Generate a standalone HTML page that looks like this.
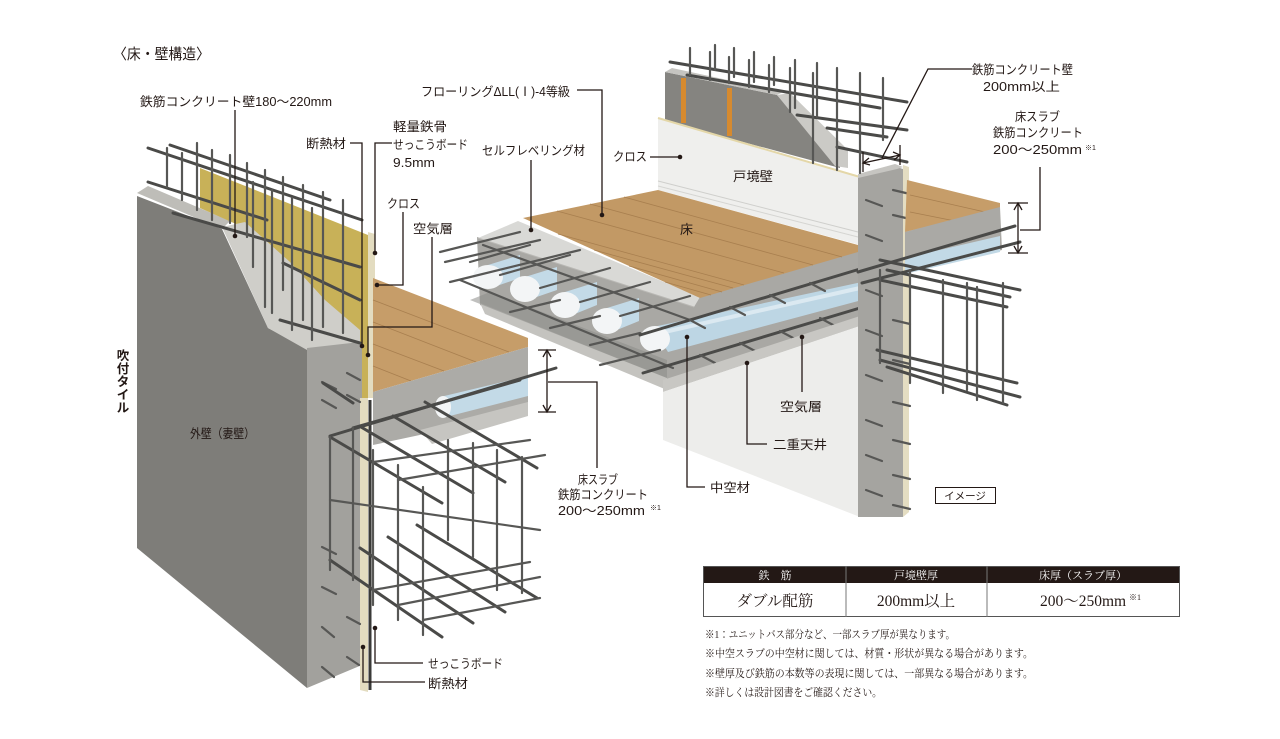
<!DOCTYPE html>
<html><head><meta charset="utf-8">
<style>
html,body{margin:0;padding:0;background:#fff;}
svg{display:block;}
.t{font-family:"Liberation Sans","Noto Sans CJK JP",sans-serif;font-size:12.5px;fill:#231815;}
.s{font-family:"Liberation Serif","Noto Serif CJK JP",serif;fill:#231815;}
.l{stroke:#231815;stroke-width:1.3;fill:none;}
.r{stroke:#4a4a48;stroke-width:3;stroke-linecap:round;fill:none;}
.r2{stroke:#575755;stroke-width:2.2;stroke-linecap:round;fill:none;}
.pl{stroke:#a87f4f;stroke-width:0.8;fill:none;}
</style></head><body>
<svg width="1280" height="739" viewBox="0 0 1280 739" xmlns="http://www.w3.org/2000/svg">
<rect width="1280" height="739" fill="#fff"/>

<!-- ================= LEFT WALL ================= -->
<polygon points="137,196 222,229 268,328 307,348 307,688 137,548" fill="#7e7d79"/>
<polygon points="137,193 148,186 230,221 222,229" fill="#bebdb8"/>
<polygon points="200,168 373,237 373,398 360,398 360,335 300,290 245,228 200,208" fill="#c8b158"/>
<polygon points="222,227 245,222 290,262 325,300 360,330 360,342 307,350 268,328" fill="#cfcec9"/>
<polygon points="307,348 360,342 362,345 362,665 307,688" fill="#a2a19d"/>
<polygon points="360,398 368,398 368,692 360,690" fill="#e3dcc0"/>
<polygon points="368,232 375,234 375,398 368,398" fill="#e3dcc0"/>
<line x1="370" y1="400" x2="370" y2="690" stroke="#3a3a38" stroke-width="3"/>

<!-- left floor -->
<polygon points="373,278 528,338 528,347 373,392" fill="#c69d69"/>
<line class="pl" x1="373" y1="300" x2="509" y2="352"/>
<line class="pl" x1="373" y1="322" x2="476" y2="362"/>
<line class="pl" x1="373" y1="344" x2="444" y2="371"/>
<line class="pl" x1="373" y1="366" x2="411" y2="381"/>
<polygon points="373,392 528,347 528,412 373,445" fill="#acaba7"/>
<polygon points="420,430 528,402 528,416 432,444" fill="#c6c5c1"/>
<polygon points="440,397 528,376 528,396 442,418" fill="#c3dae7"/>
<ellipse cx="443" cy="407" rx="8" ry="11" fill="#f3f5f6"/>

<!-- left stubs on concrete -->
<g class="r2">
<line x1="322" y1="382" x2="336" y2="389"/><line x1="347" y1="373" x2="360" y2="380"/>
<line x1="322" y1="400" x2="336" y2="408"/><line x1="347" y1="395" x2="360" y2="402"/>
<line x1="322" y1="587" x2="336" y2="594"/><line x1="347" y1="617" x2="360" y2="624"/>
<line x1="322" y1="627" x2="334" y2="637"/><line x1="322" y1="667" x2="334" y2="677"/>
<line x1="347" y1="657" x2="359" y2="665"/><line x1="322" y1="547" x2="336" y2="554"/>
</g>

<!-- left top rebars -->
<g class="r">
<line x1="148" y1="148" x2="362" y2="220"/>
<line x1="170" y1="145" x2="330" y2="200"/>
<line x1="148" y1="182" x2="267" y2="220"/>
<line x1="173" y1="213" x2="360" y2="267"/>
<line x1="283" y1="263" x2="360" y2="300"/>
<line x1="280" y1="320" x2="360" y2="343"/>
<line x1="323" y1="383" x2="353" y2="403"/>
</g>
<g class="r2">
<line x1="167" y1="148" x2="167" y2="187"/><line x1="182" y1="153" x2="182" y2="200"/>
<line x1="197" y1="143" x2="197" y2="210"/><line x1="212" y1="150" x2="212" y2="220"/>
<line x1="230" y1="155" x2="230" y2="223"/><line x1="247" y1="163" x2="247" y2="237"/>
<line x1="253" y1="182" x2="253" y2="267"/><line x1="265" y1="170" x2="265" y2="307"/>
<line x1="272" y1="190" x2="272" y2="313"/><line x1="283" y1="177" x2="283" y2="290"/>
<line x1="292" y1="198" x2="292" y2="330"/><line x1="303" y1="185" x2="303" y2="320"/>
<line x1="312" y1="208" x2="312" y2="340"/><line x1="323" y1="192" x2="323" y2="327"/>
<line x1="343" y1="200" x2="343" y2="333"/>
</g>

<!-- left cage -->
<g class="r">
<line x1="330" y1="436" x2="556" y2="368"/>
<line x1="353" y1="428" x2="520" y2="380"/>
<line x1="330" y1="437" x2="442" y2="503"/>
<line x1="361" y1="427" x2="473" y2="493"/>
<line x1="393" y1="416" x2="505" y2="482"/>
<line x1="425" y1="402" x2="537" y2="468"/>
<line x1="330" y1="560" x2="442" y2="637"/>
<line x1="360" y1="548" x2="473" y2="623"/>
<line x1="388" y1="537" x2="505" y2="612"/>
<line x1="417" y1="525" x2="537" y2="598"/>
</g>
<g class="r2">
<line x1="330" y1="437" x2="330" y2="570"/><line x1="353" y1="428" x2="353" y2="580"/>
<line x1="373" y1="450" x2="373" y2="605"/><line x1="398" y1="465" x2="398" y2="620"/>
<line x1="423" y1="487" x2="423" y2="635"/><line x1="448" y1="440" x2="448" y2="540"/>
<line x1="473" y1="443" x2="473" y2="557"/><line x1="497" y1="450" x2="497" y2="590"/>
<line x1="522" y1="457" x2="522" y2="593"/>
<line x1="373" y1="462" x2="530" y2="440"/><line x1="398" y1="480" x2="545" y2="455"/>
<line x1="330" y1="500" x2="540" y2="530"/>
<line x1="373" y1="590" x2="530" y2="562"/><line x1="398" y1="605" x2="540" y2="577"/>
<line x1="423" y1="620" x2="540" y2="598"/>
</g>

<!-- ================= RIGHT STRUCTURE ================= -->
<!-- dark wall -->
<polygon points="665,72 777,95 840,163 840,168 665,121" fill="#858480"/>
<polygon points="665,72 672,68 783,92 777,95" fill="#c5c4c0"/>
<polygon points="777,95 790,93 848,150 848,168 835,166" fill="#cbcac6"/>
<rect x="681" y="78" width="5" height="45" fill="#d68a2f"/>
<rect x="727" y="88" width="5" height="48" fill="#d68a2f"/>
<!-- white wall -->
<polygon points="658,118 860,177 860,245 658,190" fill="#efefed"/>
<line x1="658" y1="118" x2="860" y2="177" stroke="#e4d7a8" stroke-width="2"/>
<line x1="658" y1="181" x2="858" y2="232" stroke="#cfcfcc" stroke-width="1"/>
<line x1="658" y1="186" x2="858" y2="237" stroke="#d5d5d2" stroke-width="1"/>

<!-- slab body -->
<polygon points="477,237 700,296 858,250 860,255 860,320 667,384 480,305" fill="#a9a8a4"/>
<polygon points="480,303 667,378 667,390 485,314" fill="#c4c3bf"/>
<polygon points="470,300 490,292 667,360 667,378" fill="#8d8c88" opacity="0.55"/>
<!-- self leveling -->
<polygon points="478,238 518,221 700,297 694,307" fill="#d9d9d6"/>
<line x1="478" y1="238" x2="694" y2="307" stroke="#b9b8b4" stroke-width="1"/>
<!-- main wood -->
<polygon points="523,218 658,190 858,245 858,252 700,298" fill="#c29965"/>
<line class="pl" x1="558" y1="234" x2="744" y2="285"/>
<line class="pl" x1="594" y1="250" x2="733" y2="288"/>
<line class="pl" x1="629" y1="266" x2="722" y2="292"/>
<line class="pl" x1="665" y1="282" x2="711" y2="295"/>
<line class="pl" x1="557" y1="211" x2="784" y2="273"/>
<line class="pl" x1="590" y1="204" x2="813" y2="265"/>
<line class="pl" x1="624" y1="197" x2="842" y2="257"/>

<!-- tubes left face -->
<g>
<polygon points="488,265 520,255 520,278 488,289" fill="#c3dae7"/>
<ellipse cx="488" cy="277" rx="15" ry="12" fill="#f3f5f6"/>
<polygon points="525,277 557,267 557,290 525,301" fill="#c3dae7"/>
<ellipse cx="525" cy="289" rx="15" ry="13" fill="#f3f5f6"/>
<polygon points="565,292 597,282 597,305 565,318" fill="#c3dae7"/>
<ellipse cx="565" cy="305" rx="15" ry="13" fill="#f3f5f6"/>
<polygon points="607,308 639,298 639,321 607,334" fill="#c3dae7"/>
<ellipse cx="607" cy="321" rx="15" ry="13" fill="#f3f5f6"/>
</g>
<!-- long tube -->
<polygon points="653,327 862,282 862,300 668,352" fill="#bdd6e4"/>
<line x1="660" y1="333" x2="860" y2="288" stroke="#dbe9f1" stroke-width="4"/>
<ellipse cx="655" cy="339" rx="15" ry="13" fill="#f3f5f6"/>

<!-- slab rebars -->
<g class="r2">
<line x1="440" y1="252" x2="520" y2="232"/>
<line x1="445" y1="262" x2="540" y2="240"/>
<line x1="450" y1="282" x2="580" y2="250"/>
<line x1="460" y1="280" x2="673" y2="368"/>
<line x1="483" y1="245" x2="690" y2="320"/>
<line x1="470" y1="262" x2="530" y2="245"/>
<line x1="500" y1="275" x2="570" y2="255"/>
<line x1="540" y1="288" x2="610" y2="268"/>
<line x1="580" y1="302" x2="650" y2="282"/>
<line x1="620" y1="316" x2="690" y2="296"/>
<line x1="510" y1="312" x2="560" y2="300"/>
<line x1="550" y1="328" x2="600" y2="316"/>
<line x1="590" y1="345" x2="640" y2="333"/>
<line x1="600" y1="365" x2="660" y2="350"/>
</g>
<g class="r">
<line x1="640" y1="335" x2="880" y2="263"/>
<line x1="643" y1="373" x2="880" y2="302"/>
</g>
<g class="r2">
<line x1="690" y1="320" x2="705" y2="328"/><line x1="730" y1="307" x2="745" y2="315"/>
<line x1="770" y1="295" x2="785" y2="303"/><line x1="810" y1="283" x2="825" y2="291"/>
<line x1="700" y1="355" x2="715" y2="363"/><line x1="740" y1="343" x2="755" y2="351"/>
<line x1="780" y1="331" x2="795" y2="339"/><line x1="820" y1="318" x2="835" y2="326"/>
</g>

<!-- ceiling board & white ceiling wall -->
<polygon points="663,380 860,316 860,326 663,392" fill="#c8c7c3"/>
<polygon points="663,392 860,326 860,517 663,440" fill="#ededeb"/>

<!-- column -->
<polygon points="858,177 897,167 903,169 903,517 858,517" fill="#a5a4a0"/>
<polygon points="858,174 895,164 903,167 897,169 858,178" fill="#c6c5c1"/>
<polygon points="903,165 909,167 909,512 903,517" fill="#e4ddc2"/>
<g class="r2">
<line x1="866" y1="200" x2="882" y2="206"/><line x1="866" y1="235" x2="882" y2="241"/>
<line x1="866" y1="290" x2="882" y2="296"/><line x1="866" y1="330" x2="882" y2="336"/>
<line x1="866" y1="375" x2="882" y2="381"/><line x1="866" y1="420" x2="882" y2="426"/>
<line x1="866" y1="455" x2="882" y2="461"/><line x1="866" y1="490" x2="882" y2="496"/>
<line x1="893" y1="190" x2="910" y2="194"/><line x1="893" y1="215" x2="910" y2="219"/>
<line x1="893" y1="320" x2="910" y2="324"/><line x1="893" y1="360" x2="910" y2="364"/>
<line x1="893" y1="402" x2="910" y2="406"/><line x1="893" y1="440" x2="910" y2="444"/>
<line x1="893" y1="475" x2="910" y2="479"/><line x1="893" y1="505" x2="910" y2="509"/>
</g>

<!-- right floor -->
<polygon points="907,180 1000,203 1000,209 905,232" fill="#c69d69"/>
<line class="pl" x1="910" y1="195" x2="985" y2="212"/>
<line class="pl" x1="910" y1="212" x2="960" y2="222"/>
<polygon points="905,232 1000,207 1002,250 905,272" fill="#aaa9a5"/>
<polygon points="905,258 1000,236 1000,252 905,274" fill="#c2d9e6"/>
<g class="r">
<line x1="858" y1="272" x2="1015" y2="226"/>
<line x1="862" y1="283" x2="1020" y2="242"/>
</g>

<!-- right cage -->
<g class="r">
<line x1="880" y1="260" x2="1020" y2="290"/>
<line x1="887" y1="270" x2="1010" y2="297"/>
<line x1="880" y1="280" x2="1007" y2="307"/>
<line x1="877" y1="350" x2="1017" y2="383"/>
<line x1="880" y1="360" x2="1020" y2="397"/>
<line x1="887" y1="367" x2="1007" y2="405"/>
</g>
<g class="r2">
<line x1="880" y1="270" x2="880" y2="363"/><line x1="910" y1="270" x2="910" y2="383"/>
<line x1="943" y1="280" x2="943" y2="393"/><line x1="967" y1="283" x2="967" y2="390"/>
<line x1="977" y1="287" x2="977" y2="400"/><line x1="1003" y1="283" x2="1003" y2="403"/>
</g>

<!-- top rebars right -->
<g class="r">
<line x1="670" y1="62" x2="907" y2="102"/>
<line x1="687" y1="75" x2="880" y2="108"/>
<line x1="797" y1="115" x2="907" y2="130"/>
<line x1="827" y1="128" x2="887" y2="137"/>
<line x1="837" y1="147" x2="907" y2="162"/>
</g>
<g class="r2">
<line x1="690" y1="48" x2="690" y2="75"/><line x1="710" y1="52" x2="710" y2="80"/>
<line x1="715" y1="45" x2="715" y2="70"/><line x1="729" y1="57" x2="729" y2="83"/>
<line x1="734" y1="48" x2="734" y2="77"/><line x1="749" y1="60" x2="749" y2="87"/>
<line x1="754" y1="52" x2="754" y2="82"/><line x1="769" y1="65" x2="769" y2="92"/>
<line x1="774" y1="57" x2="774" y2="85"/><line x1="790" y1="68" x2="790" y2="112"/>
<line x1="795" y1="60" x2="795" y2="108"/><line x1="813" y1="73" x2="813" y2="163"/>
<line x1="817" y1="63" x2="817" y2="117"/><line x1="837" y1="68" x2="837" y2="170"/>
<line x1="860" y1="73" x2="860" y2="173"/><line x1="883" y1="78" x2="883" y2="140"/>
</g>

<!-- ================= LEADERS / DIMENSIONS ================= -->
<g class="l">
<polyline points="235,110 235,236"/>
<polyline points="350,143 362,143 362,346"/>
<polyline points="392,143 375,143 375,253"/>
<polyline points="403,212 403,285 377,285"/>
<polyline points="432,237 432,327 368,327 368,355"/>
<polyline points="375,628 375,663 423,663"/>
<polyline points="363,647 363,682 425,682"/>
<line x1="547" y1="350" x2="547" y2="412"/>
<line x1="538" y1="350" x2="556" y2="350"/>
<line x1="538" y1="412" x2="556" y2="412"/>
<polyline points="543,357 547,350 551,357"/>
<polyline points="543,405 547,412 551,405"/>
<polyline points="548,382 597,382 597,468"/>
<polyline points="577,90 602,90 602,215"/>
<line x1="531" y1="160" x2="531" y2="230"/>
<line x1="650" y1="157" x2="680" y2="157"/>
<polyline points="802,337 802,392"/>
<polyline points="747,363 747,444 767,444"/>
<polyline points="687,337 687,487 705,487"/>
<polyline points="972,69 928,69 882,158"/>
<line x1="863" y1="163" x2="900" y2="155"/>
<line x1="863" y1="152" x2="863" y2="172"/>
<line x1="900" y1="145" x2="900" y2="165"/>
<polyline points="869,158 863,163 870,165"/>
<polyline points="893,152 900,155 894,160"/>
<line x1="1018" y1="203" x2="1018" y2="253"/>
<line x1="1008" y1="203" x2="1028" y2="203"/>
<line x1="1008" y1="253" x2="1028" y2="253"/>
<polyline points="1014,210 1018,203 1022,210"/>
<polyline points="1014,246 1018,253 1022,246"/>
<polyline points="1020,230 1040,230 1040,167"/>
</g>
<g fill="#231815">
<circle cx="235" cy="236" r="2.3"/><circle cx="362" cy="346" r="2.3"/>
<circle cx="375" cy="253" r="2.3"/><circle cx="377" cy="285" r="2.3"/>
<circle cx="368" cy="355" r="2.3"/><circle cx="375" cy="628" r="2.3"/>
<circle cx="363" cy="647" r="2.3"/><circle cx="602" cy="215" r="2.3"/>
<circle cx="531" cy="230" r="2.3"/><circle cx="680" cy="157" r="2.3"/>
<circle cx="802" cy="337" r="2.3"/><circle cx="747" cy="363" r="2.3"/>
<circle cx="687" cy="337" r="2.3"/>
</g>

<!-- ================= LABELS ================= -->
<text class="t" x="113" y="59" style="font-size:15px" textLength="97" lengthAdjust="spacingAndGlyphs">〈床・壁構造〉</text>
<text class="t" x="140" y="106" textLength="192" lengthAdjust="spacingAndGlyphs">鉄筋コンクリート壁180〜220mm</text>
<text class="t" x="306" y="148" textLength="40" lengthAdjust="spacingAndGlyphs">断熱材</text>
<text class="t" x="393" y="131" textLength="54" lengthAdjust="spacingAndGlyphs">軽量鉄骨</text>
<text class="t" x="393" y="149" textLength="75" lengthAdjust="spacingAndGlyphs">せっこうボード</text>
<text class="t" x="393" y="167" textLength="42" lengthAdjust="spacingAndGlyphs">9.5mm</text>
<text class="t" x="387" y="208" textLength="33" lengthAdjust="spacingAndGlyphs">クロス</text>
<text class="t" x="413" y="233" textLength="40" lengthAdjust="spacingAndGlyphs">空気層</text>
<g class="t" text-anchor="middle" style="font-weight:bold">
<text x="123" y="360">吹</text><text x="123" y="373">付</text><text x="123" y="386">タ</text><text x="123" y="399">イ</text><text x="123" y="412">ル</text>
</g>
<text class="t" x="190" y="438" textLength="65" lengthAdjust="spacingAndGlyphs">外壁（妻壁）</text>
<text class="t" x="428" y="668" textLength="75" lengthAdjust="spacingAndGlyphs">せっこうボード</text>
<text class="t" x="428" y="688" textLength="40" lengthAdjust="spacingAndGlyphs">断熱材</text>

<text class="t" x="421" y="96" textLength="149" lengthAdjust="spacingAndGlyphs">フローリングΔLL(Ⅰ)-4等級</text>
<text class="t" x="482" y="155" textLength="103" lengthAdjust="spacingAndGlyphs">セルフレベリング材</text>
<text class="t" x="613" y="161" textLength="34" lengthAdjust="spacingAndGlyphs">クロス</text>
<text class="t" x="733" y="181" style="font-size:13px" textLength="40" lengthAdjust="spacingAndGlyphs">戸境壁</text>
<text class="t" x="680" y="234" style="font-size:13px">床</text>

<text class="t" x="578" y="484" textLength="40" lengthAdjust="spacingAndGlyphs">床スラブ</text>
<text class="t" x="558" y="499" textLength="90" lengthAdjust="spacingAndGlyphs">鉄筋コンクリート</text>
<text class="t" x="558" y="515" textLength="87" lengthAdjust="spacingAndGlyphs">200〜250mm</text>
<text class="t" x="650" y="510" style="font-size:7px">※1</text>

<text class="t" x="780" y="411" textLength="42" lengthAdjust="spacingAndGlyphs">空気層</text>
<text class="t" x="773" y="449" textLength="54" lengthAdjust="spacingAndGlyphs">二重天井</text>
<text class="t" x="710" y="492" textLength="40" lengthAdjust="spacingAndGlyphs">中空材</text>

<text class="t" x="972" y="74" textLength="101" lengthAdjust="spacingAndGlyphs">鉄筋コンクリート壁</text>
<text class="t" x="983" y="91" textLength="77" lengthAdjust="spacingAndGlyphs">200mm以上</text>
<text class="t" x="1015" y="121" textLength="45" lengthAdjust="spacingAndGlyphs">床スラブ</text>
<text class="t" x="993" y="137" textLength="90" lengthAdjust="spacingAndGlyphs">鉄筋コンクリート</text>
<text class="t" x="993" y="154" textLength="89" lengthAdjust="spacingAndGlyphs">200〜250mm</text>
<text class="t" x="1085" y="150" style="font-size:7px">※1</text>

<rect x="935.5" y="487.5" width="60" height="16" fill="#fff" stroke="#231815" stroke-width="1"/>
<text class="t" x="965" y="499.5" text-anchor="middle" style="font-size:10.5px">イメージ</text>

<!-- ================= TABLE ================= -->
<rect x="703" y="566" width="477" height="17" fill="#231815"/>
<rect x="703.5" y="566.5" width="476" height="50" fill="none" stroke="#555" stroke-width="1"/>
<line x1="846" y1="566" x2="846" y2="617" stroke="#777" stroke-width="1"/>
<line x1="987" y1="566" x2="987" y2="617" stroke="#777" stroke-width="1"/>
<g class="s" text-anchor="middle" style="font-size:11px;fill:#fff">
<text x="775" y="579">鉄　筋</text>
<text x="916" y="579">戸境壁厚</text>
<text x="1083" y="579">床厚（スラブ厚）</text>
</g>
<g class="s" text-anchor="middle" style="font-size:15.5px">
<text x="775" y="606">ダブル配筋</text>
<text x="916" y="606">200mm以上</text>
<text x="1083" y="606">200〜250mm</text>
</g>
<text class="s" x="1129" y="600" style="font-size:8px">※1</text>

<g class="s" style="font-size:11px">
<text x="705" y="638" textLength="250" lengthAdjust="spacingAndGlyphs">※1：ユニットバス部分など、一部スラブ厚が異なります。</text>
<text x="705" y="657" textLength="328" lengthAdjust="spacingAndGlyphs">※中空スラブの中空材に関しては、材質・形状が異なる場合があります。</text>
<text x="705" y="677" textLength="328" lengthAdjust="spacingAndGlyphs">※壁厚及び鉄筋の本数等の表現に関しては、一部異なる場合があります。</text>
<text x="705" y="696" textLength="177" lengthAdjust="spacingAndGlyphs">※詳しくは設計図書をご確認ください。</text>
</g>
</svg>
</body></html>
